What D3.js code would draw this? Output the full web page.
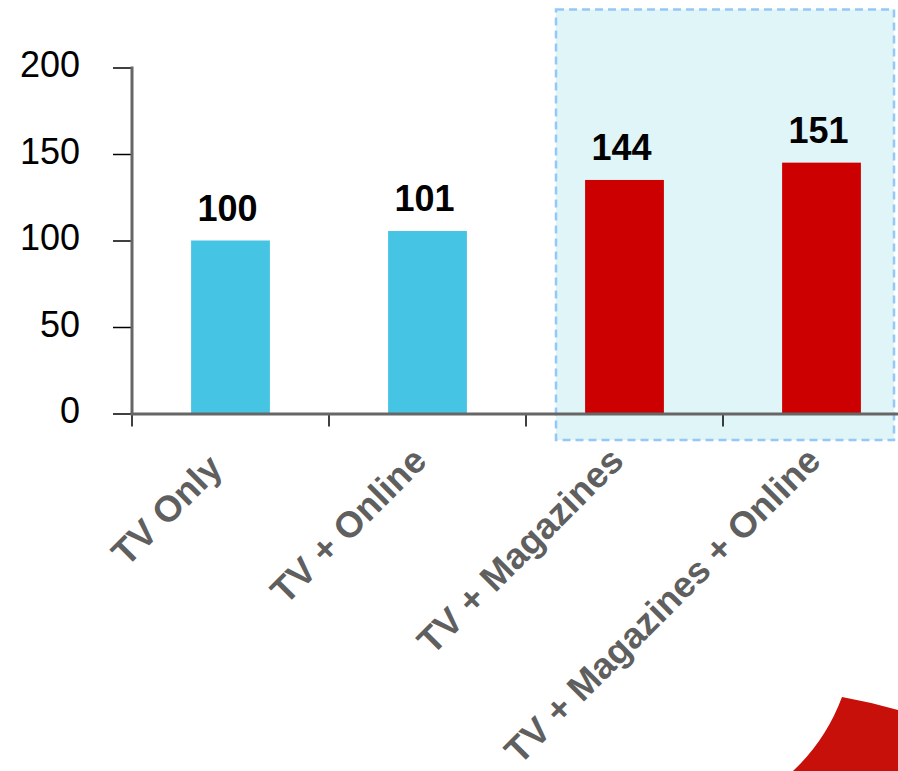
<!DOCTYPE html>
<html>
<head>
<meta charset="utf-8">
<script src="https://cdn.jsdelivr.net/npm/d3@7"></script>
<style>
  html, body { margin: 0; padding: 0; background: #ffffff; }
  svg { display: block; }
</style>
</head>
<body>
<svg id="chart" width="898" height="771"></svg>
<script>
// ---- data ----
const categories = ["TV Only", "TV + Online", "TV + Magazines", "TV + Magazines + Online"];
const barValues = [100, 105.5, 135, 145];
const labelTexts = ["100", "101", "144", "151"];
const barColors = ["#45c4e3", "#45c4e3", "#cc0000", "#cc0000"];
const yTicks = [0, 50, 100, 150, 200];
const highlighted = ["TV + Magazines", "TV + Magazines + Online"];

// ---- layout ----
const W = 898, H = 771;
const x0 = 132, x1 = 920;   // band range (chart extends past the right edge)
const yBottom = 413.5, yTop = 67.5;
const FONT = "Liberation Sans, Arial, sans-serif";

const svg = d3.select("#chart");

const x = d3.scaleBand().domain(categories).range([x0, x1]).paddingInner(0).paddingOuter(0);
const y = d3.scaleLinear().domain([0, 200]).range([yBottom, yTop]);
const barW = x.bandwidth() * 0.4;

// highlight box
const hx0 = x(highlighted[0]) + 30;
const hx1 = W - 4;
svg.append("rect")
  .attr("x", hx0).attr("y", 9.5)
  .attr("width", hx1 - hx0).attr("height", 440 - 9.5)
  .attr("fill", "#e0f5f7")
  .attr("stroke", "#94c8f7")
  .attr("stroke-width", 2.5)
  .attr("stroke-dasharray", "8,5");

// bars
svg.append("g").selectAll("rect")
  .data(categories)
  .join("rect")
  .attr("x", d => x(d) + (x.bandwidth() - barW) / 2)
  .attr("y", (d, i) => y(barValues[i]))
  .attr("width", barW)
  .attr("height", (d, i) => yBottom - y(barValues[i]))
  .attr("fill", (d, i) => barColors[i]);

// data labels
svg.append("g").selectAll("text")
  .data(categories)
  .join("text")
  .attr("x", d => x(d) + x.bandwidth() / 2 - 3)
  .attr("y", (d, i) => y(barValues[i]) - 20)
  .attr("text-anchor", "middle")
  .attr("font-family", FONT)
  .attr("font-weight", "bold")
  .attr("font-size", 36)
  .attr("fill", "#000")
  .text((d, i) => labelTexts[i]);

// y axis
const yAxis = d3.axisLeft(y).tickValues(yTicks).tickSize(19).tickPadding(33);
const gy = svg.append("g").attr("transform", `translate(${x0},0)`).call(yAxis);
gy.select(".domain").remove();
gy.selectAll(".tick line").attr("stroke", "#000").attr("stroke-width", 1.5);
gy.selectAll(".tick text")
  .attr("font-family", FONT)
  .attr("font-size", 36)
  .attr("fill", "#000")
  .attr("dy", "0.26em");
svg.append("line")
  .attr("x1", x0).attr("x2", x0)
  .attr("y1", yTop - 1).attr("y2", yBottom + 1.5)
  .attr("stroke", "#666").attr("stroke-width", 3);

// x axis
const xTickPos = categories.map(c => x(c));
svg.append("g").selectAll("line")
  .data(xTickPos)
  .join("line")
  .attr("x1", d => d).attr("x2", d => d)
  .attr("y1", yBottom).attr("y2", yBottom + 13)
  .attr("stroke", "#000").attr("stroke-width", 1.5);
svg.append("line")
  .attr("x1", x0 - 1.5).attr("x2", W)
  .attr("y1", yBottom + 0.5).attr("y2", yBottom + 0.5)
  .attr("stroke", "#666").attr("stroke-width", 3);

// x labels (first label carries a trailing space, as in the original)
svg.append("g").selectAll("text")
  .data(categories)
  .join("text")
  .attr("transform", d => `translate(${x(d) + x.bandwidth() / 2 + 1},${463}) rotate(-45)`)
  .attr("text-anchor", "end")
  .attr("font-family", FONT)
  .attr("font-weight", "bold")
  .attr("font-size", 36.5)
  .attr("fill", "#5f5f5f")
  .style("white-space", "pre")
  .text((d, i) => i === 0 ? d + " " : d);

// decorative red shape at bottom right
svg.append("path")
  .attr("d", "M842,697 Q870,702 898,710 L898,771 L793,771 Q826,740 842,697 Z")
  .attr("fill", "#c8100a");
</script>
</body>
</html>
